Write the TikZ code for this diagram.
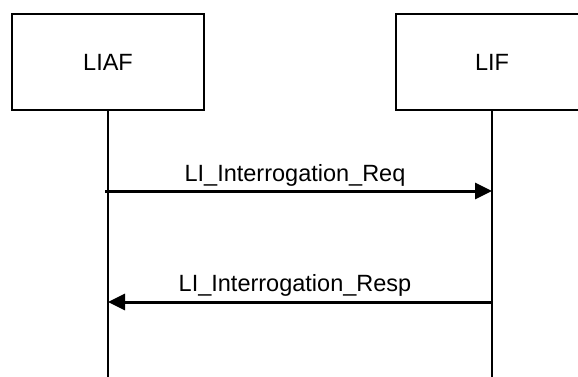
\documentclass[tikz,border=0pt]{standalone}
\usepackage{fontspec}
\setmainfont{Liberation Sans}
\usetikzlibrary{arrows.meta}
\begin{document}
\begin{tikzpicture}[x=1pt,y=-1pt,
  entity/.style={draw=black,line width=1.4pt,minimum width=192pt,minimum height=96pt,inner sep=0pt,font=\fontsize{23.5}{27}\selectfont},
  lifeline/.style={draw=black,line width=1.4pt},
  msg/.style={draw=black,line width=3pt,-{Triangle[length=17pt,width=16pt]}},
  lbl/.style={anchor=base,inner sep=0pt,font=\fontsize{23.5}{27}\selectfont}]
\useasboundingbox (0,0) rectangle (578,376);
\clip (0,0) rectangle (578,376);
\fill[white] (0,0) rectangle (578,376);
\node[entity] (liaf) at (108,62) {LIAF};
\node[entity] (lif) at (492,62) {LIF};
\coordinate (liafend) at (108,380);
\coordinate (lifend) at (492,380);
\draw[lifeline] (liaf.south) -- (liafend);
\draw[lifeline] (lif.south) -- (lifend);
\coordinate (a1s) at (105,191);
\coordinate (a1e) at (492,191);
\coordinate (a2s) at (492,302);
\coordinate (a2e) at (108,302);
\draw[msg] (a1s) -- (a1e);
\draw[msg] (a2s) -- (a2e);
\node[lbl] (l1) at (295,181) {LI\_Interrogation\_Req};
\node[lbl] (l2) at (295,291) {LI\_Interrogation\_Resp};
\end{tikzpicture}
\end{document}
